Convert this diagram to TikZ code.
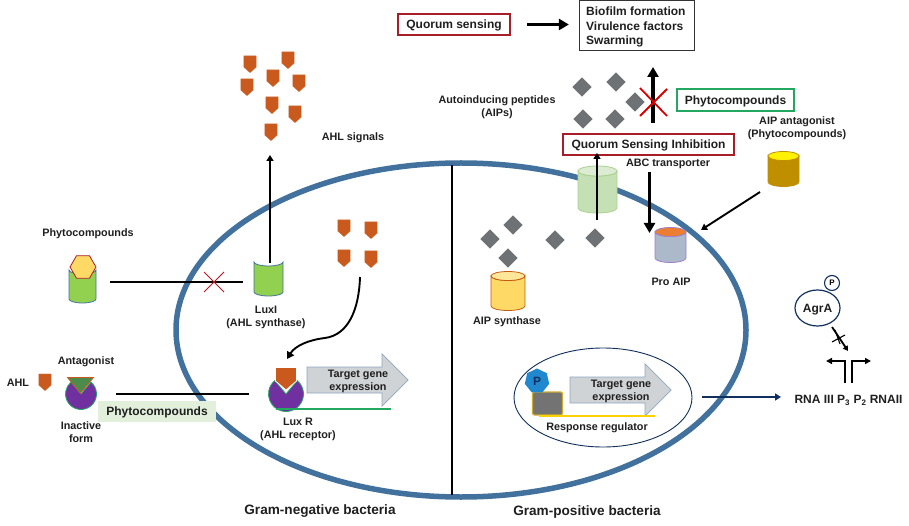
\documentclass[tikz,border=0pt]{standalone}
\usepackage{fontspec}
\setmainfont{Liberation Sans}
\usetikzlibrary{arrows.meta,shapes.geometric,shapes.arrows}
\definecolor{cellblue}{HTML}{41719C}
\definecolor{shield}{HTML}{C9591C}
\definecolor{dia}{HTML}{6E7275}
\definecolor{qred}{HTML}{A81E28}
\definecolor{qgreen}{HTML}{22A860}
\definecolor{purp}{HTML}{7030A0}
\definecolor{ltgreen}{HTML}{92D050}
\definecolor{navy2}{HTML}{12305F}
\definecolor{goldb}{HTML}{BF8F00}
\definecolor{goldt}{HTML}{FFF200}
\definecolor{proaipb}{HTML}{ACB9CA}
\definecolor{proaipd}{HTML}{A080C8}
\definecolor{orangt}{HTML}{ED7D31}
\definecolor{synb}{HTML}{FFD966}
\definecolor{synd}{HTML}{C55A11}
\definecolor{synt}{HTML}{FFE699}
\definecolor{abcb}{HTML}{C5E0B4}
\definecolor{abcd}{HTML}{A9D18E}
\definecolor{arrgray}{HTML}{D0D3D6}
\definecolor{arrblue}{HTML}{8EA6C0}
\definecolor{phybgc}{HTML}{E2EFDA}
\tikzset{
 lbl/.style={font=\bfseries\fontsize{10.8}{13}\selectfont,inner sep=0pt,text=black!88,align=center,yshift=-1.2pt},
 lblb/.style={font=\bfseries\fontsize{12}{14}\selectfont,inner sep=0pt,text=black!88,align=center,yshift=-1.2pt},
 lblc/.style={font=\bfseries\fontsize{13.6}{15}\selectfont,inner sep=0pt,text=black!88,align=center,yshift=-1.5pt},
 boxtxt/.style={font=\bfseries\fontsize{12}{14}\selectfont,text=black!88,inner sep=0pt,text depth=0pt},
 redbox/.style={draw=qred,line width=1.7pt,fill=white,boxtxt},
 bar/.style={line width=2.4pt,black},
 thickarr/.style={line width=3.2pt,-{Triangle[length=10pt,width=11pt]}},
 medarr/.style={line width=1.9pt,-{Triangle[length=6pt,width=7pt]}},
 sig/.style={fill=shield,draw=shield!85!white,line width=.3pt},
 diam/.style={diamond,fill=dia,minimum width=19.5pt,minimum height=19.5pt,inner sep=0pt},
 redx/.style={draw=qred!80!red,line width=1pt},
}
\newcommand{\shld}[3][1.08]{\fill[sig,shift={(#2,#3)},scale=#1] (-5.7,-7.5)--(5.7,-7.5)--(5.7,3)--(0,8)--(-5.7,3)--cycle;}
\newcommand{\cyl}[8]{%
 \path[fill=#6,draw=#7,line width=.8pt] (#1,#3) -- (#1,#4) arc[start angle=180,end angle=0,x radius={(#2-#1)/2},y radius=#5] -- (#2,#3) arc[start angle=0,end angle=180,x radius={(#2-#1)/2},y radius=#5] -- cycle;
 \path[fill=#8,draw=#7,line width=.8pt] ({(#1+#2)/2},#3) ellipse[x radius={(#2-#1)/2},y radius=#5];}
\newcommand{\ocyl}[7]{%
 \path[fill=#6,draw=#7,line width=.8pt] (#1,#3) -- (#1,#4) arc[start angle=180,end angle=0,x radius={(#2-#1)/2},y radius=#5] -- (#2,#3) arc[start angle=0,end angle=180,x radius={(#2-#1)/2},y radius=#5] -- cycle;}
\begin{document}
\begin{tikzpicture}[x=1pt,y=-1pt]
\useasboundingbox (0,0) rectangle (909,526);
\foreach \a/\b in {250/64,288/60,273/78,247/87,299/83,272/105,295/114,271/132,344/228,371/230,344/258,371/259}{\shld{\a}{\b}}
\node[lbl] (ahlsig) at (353,137) {AHL signals};
\draw[cellblue,line width=5.5pt] (461,330) ellipse[x radius=285,y radius=167];
\coordinate (divT) at (452,165); \coordinate (divB) at (452,495);
\draw[line width=1.8pt,black] (divT)--(divB);
\node[lblc] (gneg) at (320,510) {Gram-negative bacteria};
\node[lblc] (gpos) at (587,510) {Gram-positive bacteria};
% LuxI
\node[lbl] (phyt1) at (88,233) {Phytocompounds};
\ocyl{69}{96}{270}{299}{4}{ltgreen}{cellblue}
\node[regular polygon,regular polygon sides=6,draw=qred,fill=synb,minimum size=26pt,inner sep=0pt,line width=.8pt] (hex) at (83,267) {};
\coordinate (inhA) at (110,282); \coordinate (inhB) at (243,282);
\draw[bar] (inhA)--(inhB);
\draw[redx] (204,272)--(224,292) (224,272)--(204,292);
\ocyl{254}{283}{262}{292}{4}{ltgreen}{cellblue}
\coordinate (luxiTop) at (270,263); \coordinate (sigBot) at (270,155);
\draw[medarr] (luxiTop)--(sigBot);
\node[lbl] (luxi) at (266,316.5) {LuxI\\(AHL synthase)};
\coordinate (cA) at (360,277); \coordinate (cB) at (287,359);
\draw[line width=1.9pt,-{Triangle[length=7pt,width=8pt]}] (cA) .. controls (359,310) and (348,335) .. (325,338) .. controls (308,340) and (295,346) .. (cB);
\node[lbl] (ahl) at (18,382) {AHL};
\shld{45}{382}
\node[lbl] (antag) at (86,361) {Antagonist};
\path[fill=purp,draw=qgreen,line width=.8pt] (81,394) -- ++(-50:15.5) arc[start angle=-50,end angle=230,radius=15.5] -- cycle;
\path[fill=green!35!black!70,draw=shield,line width=.8pt] (67.5,377.5)--(93.5,377.5)--(80.5,393)--cycle;
\node[fill=phybgc,minimum width=118pt,minimum height=21pt,inner sep=0pt] (phybg) at (157,411) {};
\coordinate (antA) at (116,394); \coordinate (antB) at (249,394);
\draw[bar] (antA)--(antB);
\node[lblb] (phy2) at (157,411) {Phytocompounds};
\node[lbl] (inact) at (81,430.5) {Inactive\\form};
% LuxR
\path[fill=purp,draw=qgreen,line width=.8pt] (286,394) -- ++(-50:17.5) arc[start angle=-50,end angle=230,radius=17.5] -- cycle;
\path[fill=shield,draw=white,line width=.8pt] (275.5,367.5)--(296.5,367.5)--(296.5,381)--(286,390)--(275.5,381)--cycle;
\path[fill=arrgray,draw=arrblue,line width=.7pt] (307,367)--(382,367)--(382,354)--(408,380)--(382,406)--(382,393)--(307,393)--cycle;
\node[lbl] (tg1) at (358,380.5) {Target gene\\expression};
\draw[qgreen,line width=1.8pt] (276,409)--(391,409);
\node[lbl] (luxr) at (298,428.5) {Lux R\\(AHL receptor)};
% top right
\node[redbox,minimum width=112pt,minimum height=21pt] (qs) at (454,24.5) {Quorum sensing};
\node[draw=black!80,line width=1pt,fill=white,minimum width=115pt,minimum height=50pt,inner sep=0pt] (bio) at (636.5,26) {};
\node[lblb,align=left,anchor=west,font=\bfseries\fontsize{12}{14.5}\selectfont] (biot) at (586,26) {Biofilm formation\\Virulence factors\\Swarming};
\draw[thickarr] (qs.east)++(16,0) -- ++(42,0);
\foreach \a/\b in {582/87,616/82,583/119,615/119,635/102,513/225,490/239,555/240,595/238,508/258}{\node[diam] at (\a,\b) {};}
\coordinate (upA) at (653,123); \coordinate (upB) at (653,67);
\draw[thickarr] (upA)--(upB);
\draw[draw=red!85!black,line width=1.8pt] (640,88)--(667,116) (667,89)--(640,116);
\node[draw=qgreen,line width=1.7pt,fill=white,minimum width=117pt,minimum height=22pt,boxtxt] (phy3) at (735.5,100) {Phytocompounds};
\node[lbl] (aips) at (497,106.5) {Autoinducing peptides\\(AIPs)};
\node[lbl] (aipant) at (797,127.5) {AIP antagonist\\(Phytocompounds)};
\cyl{578}{617}{171}{208}{5}{abcb}{abcd}{abcb!60}
\node[redbox,minimum width=171pt,minimum height=21pt] (qsi) at (648.5,144.5) {Quorum Sensing Inhibition};
\node[lbl] (abc) at (668,163) {ABC transporter};
\coordinate (abcU) at (597,220); \coordinate (abcV) at (597,153);
\draw[medarr] (abcU)--(abcV);
\coordinate (dnA) at (649.5,172); \coordinate (dnB) at (649.5,233);
\draw[thickarr] (dnA)--(dnB);
\cyl{655}{686}{232}{258}{4.5}{proaipb}{proaipd}{orangt}
\node[lbl] (proaip) at (671,281) {Pro AIP};
\cyl{768}{799}{156}{182}{4.5}{goldb}{goldb}{goldt}
\coordinate (gA) at (760,192); \coordinate (gB) at (701,230);
\draw[medarr] (gA)--(gB);
\cyl{491}{525}{276}{306}{4.5}{synb}{synd}{synt}
\node[lbl] (aipsyn) at (507,321) {AIP synthase};
% response regulator
\draw[navy2,line width=.9pt,fill=white] (603,397.5) ellipse[x radius=89,y radius=49.5];
\path[fill=arrgray,draw=arrblue,line width=.7pt] (570,377)--(645,377)--(645,364)--(671,390)--(645,416)--(645,403)--(570,403)--cycle;
\node[lbl] (tg2) at (621,390) {Target gene\\expression};
\node[rounded corners=2pt,fill=black!55,draw=yellow!60!orange!80!black,line width=1.2pt,minimum width=30pt,minimum height=23pt,inner sep=0pt] (gbox) at (547.5,403.5) {};
\node[regular polygon,regular polygon sides=7,fill=cellblue!60!cyan!80!blue,minimum size=25pt,inner sep=0pt,font=\bfseries\fontsize{12}{14}\selectfont,text=navy2] (pp) at (537,381) {P};
\draw[yellow!70!orange,line width=1.6pt] (539,416)--(655,416);
\node[lbl] (resp) at (597,427) {Response regulator};
\coordinate (nA) at (702,397); \coordinate (nB) at (781,397);
\draw[navy2,line width=2pt,-{Triangle[length=6pt,width=7pt]}] (nA)--(nB);
% agrA
\node[ellipse,draw=navy2,line width=1.2pt,fill=white,minimum width=45pt,minimum height=36pt,inner sep=0pt,boxtxt] (agr) at (817.5,308) {AgrA};
\node[circle,draw=navy2,line width=1.1pt,fill=white,minimum size=15pt,inner sep=0pt,font=\fontsize{8}{9}\selectfont\bfseries] (agp) at (832,283) {P};
\coordinate (prm) at (848,351);
\draw[line width=1.8pt,-{Triangle[length=5pt,width=5.5pt]}] (832,327)--(prm);
\draw[line width=1.1pt] (832,342)--(845,335) (835,330)--(840,344);
\coordinate (pL) at (826,361); \coordinate (pR) at (871,361);
\draw[line width=1.9pt,-{Triangle[length=6pt,width=6pt]}] (845,383)--(845,361)--(pL);
\draw[line width=1.9pt,-{Triangle[length=6pt,width=6pt]}] (852,383)--(852,361)--(pR);
\node[lblb] (rna) at (848.5,399) {RNA III P\textsubscript{3} P\textsubscript{2} RNAII};
\end{tikzpicture}
\end{document}
